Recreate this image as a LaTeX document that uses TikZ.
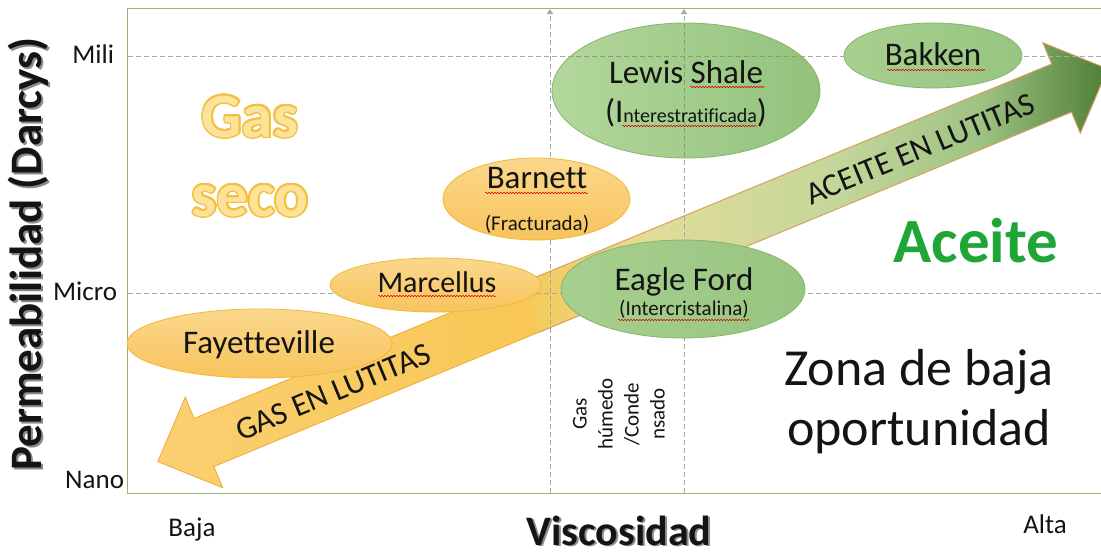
\documentclass[tikz,border=0pt]{standalone}
\usepackage{fontspec}
\setmainfont{Carlito}[Ligatures=NoCommon]
\usepackage[copies]{contour}
\contourlength{1.6pt}
\usetikzlibrary{arrows.meta,decorations.pathmorphing,shapes.geometric}
\newcommand\fsz[2]{\fontsize{#1}{#2}\selectfont}
\definecolor{txtc}{HTML}{141414}
\definecolor{framec}{HTML}{93B87A}
\definecolor{gridc}{HTML}{A8A8A8}
\definecolor{gridin}{HTML}{7FA36B}
\definecolor{orTop}{HTML}{FBD78C}
\definecolor{orBot}{HTML}{F8C45C}
\definecolor{orEdge}{HTML}{F2B838}
\definecolor{grEdge}{HTML}{86B56C}
\definecolor{lwL}{HTML}{B3D79C}
\definecolor{lwR}{HTML}{93C27C}
\definecolor{efL}{HTML}{A8CF8F}
\definecolor{efR}{HTML}{97C580}
\definecolor{ga1}{HTML}{F7C852}
\definecolor{ga2}{HTML}{E2DC98}
\definecolor{ga3}{HTML}{C3D79A}
\definecolor{ga4}{HTML}{9FC383}
\definecolor{ga5}{HTML}{4E7E36}
\definecolor{gaEdge}{HTML}{D9A060}
\definecolor{yaTip}{HTML}{FBCF72}
\definecolor{yaTail}{HTML}{F7C650}
\definecolor{yaEdge}{HTML}{F0AA35}
\definecolor{gasfill}{HTML}{FDE29A}
\definecolor{gasedge}{HTML}{F3C040}
\definecolor{aceitec}{HTML}{1FA637}
\definecolor{shadowc}{HTML}{8C8C8C}
\pgfdeclarehorizontalshading{garrow}{100bp}{color(0bp)=(ga1); color(25bp)=(ga1); color(36bp)=(ga2); color(52bp)=(ga3); color(64bp)=(ga4); color(75bp)=(ga5); color(100bp)=(ga5)}
\begin{document}
\begin{tikzpicture}[x=1pt,y=-1pt,
  txt/.style={inner sep=0pt, outer sep=0pt, text=txtc},
  shalename/.style={txt, anchor=base, font=\fsz{33}{40}},
  subtxt/.style={txt, anchor=base, font=\fsz{21}{25}},
  axlabel/.style={txt, font=\fsz{27}{32}},
  orng/.style={ellipse, inner sep=0pt, draw=orEdge, line width=0.8pt, top color=orTop, bottom color=orBot},
  grn/.style={ellipse, inner sep=0pt, draw=grEdge, line width=0.8pt},
  gridln/.style={draw=gridc, line width=0.9pt, dash pattern=on 5pt off 3pt},
  squig/.style={draw=red!85!black, line width=0.5pt, decorate, decoration={snake, amplitude=0.7pt, segment length=3pt}},
  bigbold/.style={inner sep=0pt, font=\bfseries\fsz{63}{75}, anchor=base},
]
\useasboundingbox (0,0) rectangle (1101,552);
\fill[white] (0,0) rectangle (1101,552);

% frame
\draw[framec, line width=1pt] (127,8) rectangle (1130,493);

% arrows
\begin{scope}[shift={(204,442.5)}, rotate=22.46]
  \draw[yaEdge, line width=0.8pt, left color=yaTip, right color=yaTail]
    (-50,0) -- (0,-49) -- (0,-26) -- (400,-26) -- (400,26) -- (0,26) -- (0,49) -- cycle;
  \shade[shading=garrow]
    (352,-26) -- (928,-26) -- (928,-49) -- (978,0) -- (928,49) -- (928,26) -- (352,26) -- cycle;
  \draw[gaEdge, line width=1pt, line join=miter]
    (352,-26) -- (928,-26) -- (928,-49) -- (978,0) -- (928,49) -- (928,26) -- (352,26);
\end{scope}

% grid lines
\coordinate (v1b) at (550,493); \coordinate (v1t) at (550,9);
\coordinate (v2b) at (684,493); \coordinate (v2t) at (684,9);
\coordinate (hMa) at (128,56); \coordinate (hMb) at (1101,56);
\coordinate (hUa) at (128,293); \coordinate (hUb) at (1101,293);
\draw[gridln] (hMa) -- (hMb);
\draw[gridln] (hUa) -- (hUb);
\draw[gridln, -{Triangle[width=6pt,length=5pt]}] (v1b) -- (v1t);
\draw[gridln, -{Triangle[width=6pt,length=5pt]}] (v2b) -- (v2t);

% ellipses
\node[orng, minimum width=265pt, minimum height=69pt] (efay) at (259.5,343.5) {};
\node[orng, minimum width=211pt, minimum height=54pt] (emar) at (435.5,285) {};
\node[orng, minimum width=187pt, minimum height=82pt] (ebar) at (536.5,199) {};
\node[grn, minimum width=268pt, minimum height=135pt, left color=lwL, right color=lwR] (elew) at (686,90.5) {};
\node[grn, minimum width=244pt, minimum height=98pt, left color=efL, right color=efR] (eeag) at (683,289) {};
\node[grn, minimum width=178pt, minimum height=65pt, left color=efL, right color=efR] (ebak) at (933,55.5) {};
\begin{scope}
  \clip (686,90.5) ellipse [x radius=133.5, y radius=67];
  \draw[gridln, draw=gridin] (hMa) -- (hMb);
  \draw[gridln, draw=gridin] (v2b) -- (v2t);
\end{scope}

% names
\node[shalename] (tlew) at (686,83) {Lewis Shale};
\node[txt, anchor=base] (tlew2) at (686,122) {{\fsz{33}{40}(I}{\fsz{20}{24}nterestratificada}{\fsz{33}{40})}};
\node[shalename] (tbar) at (537,188) {Barnett};
\node[subtxt] (tfra) at (537,230) {(Fracturada)};
\node[shalename, font=\fsz{30}{36}] (tmar) at (437,292) {Marcellus};
\node[shalename] (tfay) at (259,353) {Fayetteville};
\node[shalename] (teag) at (684,290) {Eagle Ford};
\node[subtxt] (tint) at (684,315) {(Intercristalina)};
\node[shalename] (tbak) at (933,65) {Bakken};

% spell-check squiggles
\draw[squig] (690,87) -- (765,87);
\draw[squig] (622,126) -- (757,126);
\draw[squig] (485,193) -- (588,193);
\draw[squig] (378,296) -- (496,296);
\draw[squig] (618,320) -- (750,320);
\draw[squig] (887,70) -- (985,70);

% arrow texts
\node[txt, rotate=22.46, font=\fsz{32}{38}] (tace) at (920,149) {ACEITE EN LUTITAS};
\node[txt, rotate=22.46, font=\fsz{32}{38}] (tgas) at (333,392) {GAS EN LUTITAS};

% region texts
\node[bigbold, text=gasfill] (tgas1) at (250,137) {\contour{gasedge}{Gas}};
\node[bigbold, text=gasfill] (tgas2) at (250,216) {\contour{gasedge}{seco}};
\node[bigbold, text=aceitec] (tacei) at (976,262) {Aceite};
\node[txt, anchor=base, font=\fsz{52}{60}] (tzon1) at (919,385) {Zona de baja};
\node[txt, anchor=base, font=\fsz{52}{60}] (tzon2) at (919,445) {oportunidad};
\node[txt, rotate=90, align=center, font=\fsz{21}{26}] (thum) at (619,414) {Gas\\húmedo\\/Conde\\nsado};

% axis labels
\node[axlabel, anchor=base east] (tmili) at (114,63) {Mili};
\node[axlabel, anchor=base east] (tmicro) at (117,300) {Micro};
\node[axlabel, anchor=base east] (tnano) at (124,488) {Nano};
\node[axlabel, anchor=base] (tbaja) at (192,536) {Baja};
\node[axlabel, anchor=base] (talta) at (1045,533) {Alta};
\node[inner sep=0pt, anchor=base, font=\bfseries\fsz{42}{50}, text=shadowc] (tviss) at (621,546.5) {Viscosidad};
\node[txt, anchor=base, font=\bfseries\fsz{42}{50}] (tvis) at (619,545) {Viscosidad};
\node[inner sep=0pt, rotate=90, font=\bfseries\fsz{45}{52}, text=shadowc] (tpers) at (30,256) {Permeabilidad (Darcys)};
\node[txt, rotate=90, font=\bfseries\fsz{45}{52}] (tper) at (28,254) {Permeabilidad (Darcys)};
\end{tikzpicture}
\end{document}
